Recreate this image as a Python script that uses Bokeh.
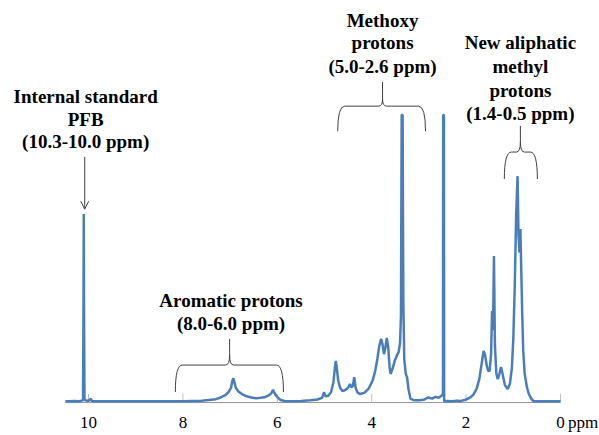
from bokeh.plotting import figure
from bokeh.models import Range1d, Label, Arrow, OpenHead, FixedTicker
from bokeh.embed import file_html
from bokeh.resources import INLINE

# ---- spectrum (chemical shift in ppm, relative intensity) ----
ppm = [10.49, 10.40, 10.30, 10.20, 10.13, 10.115, 10.105, 10.100, 10.095, 10.085, 10.07, 10.00,
       9.95, 9.93, 9.80, 9.50, 9.00, 8.50, 8.00, 7.80, 7.60, 7.45, 7.30, 7.20, 7.10, 7.03,
       6.98, 6.95, 6.93, 6.91, 6.88, 6.83, 6.75, 6.65, 6.55, 6.45, 6.35, 6.25, 6.17, 6.12,
       6.09, 6.07, 6.04, 5.98, 5.93, 5.85, 5.70, 5.50, 5.30, 5.15, 5.05, 5.01, 4.98, 4.92,
       4.86, 4.81, 4.78, 4.76, 4.74, 4.71, 4.67, 4.62, 4.56, 4.50, 4.46, 4.43, 4.40, 4.37,
       4.34, 4.30, 4.24, 4.15, 4.06, 3.98, 3.93, 3.88, 3.84, 3.80, 3.77, 3.74, 3.71, 3.68,
       3.65, 3.62, 3.60, 3.56, 3.51, 3.46, 3.43, 3.40, 3.38, 3.365, 3.345, 3.33, 3.31, 3.28,
       3.25, 3.22, 3.18, 3.10, 3.00, 2.90, 2.80, 2.72, 2.65, 2.58, 2.52, 2.49, 2.485, 2.470,
       2.465, 2.40, 2.30, 2.20, 2.10, 2.00, 1.92, 1.85, 1.78, 1.72, 1.67, 1.63, 1.60, 1.56,
       1.53, 1.50, 1.47, 1.45, 1.43, 1.41, 1.39, 1.36, 1.33, 1.30, 1.26, 1.23, 1.18, 1.12,
       1.07, 1.03, 1.00, 0.97, 0.94, 0.91, 0.89, 0.87, 0.85, 0.83, 0.81, 0.79, 0.76, 0.74,
       0.71, 0.67, 0.62, 0.58, 0.50, 0.30, 0.10, 0.00]
intensity = [0.3, 0.3, 0.4, 0.3, 0.5, 1.0, 35, 65.5, 35, 1.0, 0.6, 0.4,
             1.2, 0.4, 0.3, 0.3, 0.3, 0.3, 0.3, 0.4, 0.5, 0.7, 1.0, 1.6, 2.4, 3.5,
             5.0, 7.5, 8.3, 7.0, 5.0, 3.8, 2.8, 2.0, 1.6, 1.3, 1.5, 1.8, 2.4, 3.2,
             4.3, 3.6, 2.6, 1.4, 0.7, 0.4, 0.3, 0.4, 0.6, 0.9, 1.5, 3.5, 2.0, 2.2,
             3.5, 7.0, 12.0, 14.3, 12.0, 7.5, 5.0, 3.8, 4.2, 5.0, 6.3, 5.2, 5.5, 8.7,
             5.0, 3.3, 2.8, 3.3, 4.8, 7.5, 10.5, 15.0, 19.5, 22.0, 20.0, 16.7, 19.0, 22.3,
             19.0, 12.0, 9.8, 11.5, 14.5, 16.5, 17.4, 20.5, 30.0, 100, 100, 35, 15, 10,
             8.5, 4.5, 1.2, 0.6, 0.6, 0.8, 1.6, 1.2, 1.8, 1.5, 2.2, 3.0, 100, 100,
             0.3, 0.4, 0.3, 0.5, 0.4, 0.9, 1.5, 2.5, 4.5, 8.0, 13.5, 17.8, 16.5, 12.5,
             10.8, 11.0, 17.0, 31.7, 25.0, 50.9, 20.0, 10.0, 8.0, 9.5, 12.2, 10.0, 6.0, 4.5,
             6.5, 12.0, 22.0, 40.0, 65.0, 78.7, 58.0, 52.0, 60.3, 45.0, 30.0, 18.0, 10.0, 8.0,
             5.0, 2.8, 1.2, 0.4, 0.3, 0.3, 0.3, 0.3]

tick_values = [10, 8, 6, 4, 2, 0]
axis_min, axis_max = 0.0, 10.49
unit_pos = -0.477          # where the "ppm" unit text sits on the axis
unit_text = "ppm"

# ---- annotation texts (label, ppm, intensity) ----
ann_text = ["Internal standard", "PFB", "(10.3-10.0 ppm)",
            "Aromatic protons", "(8.0-6.0 ppm)",
            "Methoxy", "protons", "(5.0-2.6 ppm)",
            "New aliphatic", "methyl", "protons", "(1.4-0.5 ppm)"]
ann_x = [10.06, 10.06, 10.06, 6.98, 6.98, 3.77, 3.77, 3.77, 0.85, 0.85, 0.85, 0.85]
ann_y = [106.3, 98.3, 90.8, 35.5, 27.5, 133.1, 125.1, 116.9, 125.1, 116.9, 108.7, 100.7]

# braces: left ppm, right ppm, middle ppm, arm bottom, bar level, cusp level, stem top
brace_left = [8.16, 4.72, 1.19]
brace_right = [5.87, 2.86, 0.49]
brace_mid = [7.01, 3.77, 0.85]
brace_bottom = [3.5, 94.4, 77.7]
brace_bar = [12.9, 103.1, 87.1]
brace_cusp = [16.4, 105.6, 90.6]
brace_top = [22.0, 111.5, 96.2]

# arrow for internal standard
arrow_x = 10.08
arrow_y = (85.4, 67.2)

BLUE = "#4A7EBB"
DARK = "#404040"

p = figure(width=599, height=435, output_backend="svg", toolbar_location=None,
           x_range=Range1d(11.864, -0.826), y_range=Range1d(-0.5, 139.9),
           y_axis_location=None, min_border_left=0, min_border_right=0,
           min_border_top=0, min_border_bottom=32)
p.grid.visible = False
p.outline_line_color = None
p.background_fill_color = "white"

# axis line and inside ticks over the data extent
tick_len = 2.8
p.segment(x0=[axis_max], y0=[-0.2], x1=[axis_min], y1=[-0.2], line_color="#8C8C8C", line_width=1)
p.segment(x0=tick_values, y0=[-0.2] * len(tick_values), x1=tick_values,
          y1=[tick_len] * len(tick_values), line_color="#BFBFBF", line_width=1)

p.line(ppm, intensity, color=BLUE, line_width=2.5)

ax = p.xaxis[0]
ax.ticker = FixedTicker(ticks=tick_values + [unit_pos])
ax.major_label_overrides = {unit_pos: unit_text}
ax.major_tick_line_color = None
ax.minor_tick_line_color = None
ax.major_tick_out = 0
ax.major_tick_in = 0
ax.minor_tick_out = 0
ax.minor_tick_in = 0
ax.axis_line_color = None
ax.major_label_text_font = "Liberation Serif"
ax.major_label_text_font_size = "17px"
ax.major_label_text_color = "black"
ax.major_label_standoff = 9

for t, x, y in zip(ann_text, ann_x, ann_y):
    p.add_layout(Label(x=x, y=y, text=t, text_font="Liberation Serif",
                       text_font_style="bold", text_font_size="19px",
                       text_color="black", text_align="center",
                       text_baseline="middle"))

# draw braces
rx = 0.15     # corner width (ppm)
rxc = 0.085   # cusp curve width (ppm)
qx0, qy0, qx1, qy1, qcx, qcy = [], [], [], [], [], []
sx0, sy0, sx1, sy1 = [], [], [], []
for xl, xr, xm, yb, ybar, yc, yt in zip(brace_left, brace_right, brace_mid, brace_bottom,
                                         brace_bar, brace_cusp, brace_top):
    qx0.append(xl); qy0.append(yb); qx1.append(xl - rx); qy1.append(ybar); qcx.append(xl); qcy.append(ybar)
    sx0.append(xl - rx); sy0.append(ybar); sx1.append(xm + rxc); sy1.append(ybar)
    qx0.append(xm + rxc); qy0.append(ybar); qx1.append(xm); qy1.append(yc); qcx.append(xm); qcy.append(ybar)
    qx0.append(xm); qy0.append(yc); qx1.append(xm - rxc); qy1.append(ybar); qcx.append(xm); qcy.append(ybar)
    sx0.append(xm - rxc); sy0.append(ybar); sx1.append(xr + rx); sy1.append(ybar)
    qx0.append(xr + rx); qy0.append(ybar); qx1.append(xr); qy1.append(yb); qcx.append(xr); qcy.append(ybar)
    sx0.append(xm); sy0.append(yc); sx1.append(xm); sy1.append(yt)

p.quadratic(x0=qx0, y0=qy0, x1=qx1, y1=qy1, cx=qcx, cy=qcy, line_color=DARK, line_width=1)
p.segment(x0=sx0, y0=sy0, x1=sx1, y1=sy1, line_color=DARK, line_width=1)

p.add_layout(Arrow(x_start=arrow_x, y_start=arrow_y[0], x_end=arrow_x, y_end=arrow_y[1],
                   line_color=DARK, line_width=1,
                   end=OpenHead(size=8, line_color=DARK, line_width=1)))

open("out.html", "w").write(file_html(p, INLINE))
